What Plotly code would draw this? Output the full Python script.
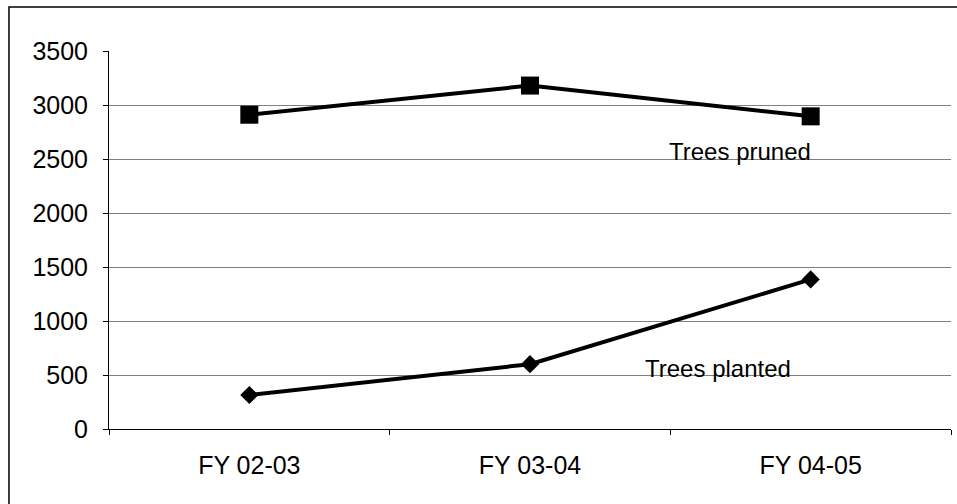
import plotly.graph_objects as go

categories = ["FY 02-03", "FY 03-04", "FY 04-05"]
trees_pruned = [2910, 3180, 2895]
trees_planted = [315, 600, 1385]
y_ticks = [0, 500, 1000, 1500, 2000, 2500, 3000, 3500]

FONT = "Liberation Sans, Arial, sans-serif"

fig = go.Figure()
fig.add_trace(go.Scatter(
    x=categories, y=trees_pruned, mode="lines+markers", name="Trees pruned",
    line=dict(color="black", width=4),
    marker=dict(symbol="square", size=18, color="black"),
))
fig.add_trace(go.Scatter(
    x=categories, y=trees_planted, mode="lines+markers", name="Trees planted",
    line=dict(color="black", width=4),
    marker=dict(symbol="diamond", size=14, color="black"),
))

# white boxes behind the inline labels (hide gridlines)
fig.add_shape(type="rect", xref="paper", yref="paper", x0=0.639, x1=1.0, y0=0.695, y1=0.768,
              fillcolor="white", line=dict(width=0), layer="between")
fig.add_shape(type="rect", xref="paper", yref="paper", x0=0.609, x1=1.0, y0=0.122, y1=0.198,
              fillcolor="white", line=dict(width=0), layer="between")
# outer border
fig.add_shape(type="rect", xref="paper", yref="paper", x0=-0.1188, x1=1.2, y0=-0.5, y1=1.1164,
              line=dict(color="black", width=1.5), fillcolor="rgba(0,0,0,0)", layer="above")

fig.add_annotation(text="Trees pruned", xref="paper", yref="paper", x=0.663, y=0.733,
                   xanchor="left", yanchor="middle", showarrow=False,
                   font=dict(family=FONT, size=24, color="black"))
fig.add_annotation(text="Trees planted", xref="paper", yref="paper", x=0.634, y=0.161,
                   xanchor="left", yanchor="middle", showarrow=False,
                   font=dict(family=FONT, size=24, color="black"))

fig.update_layout(
    width=957, height=504,
    margin=dict(l=109, r=6, t=51, b=75),
    paper_bgcolor="white", plot_bgcolor="white",
    showlegend=False,
    font=dict(family=FONT, size=25, color="black"),
    xaxis=dict(
        type="category", range=[-0.5, 2.5], showgrid=False,
        showline=True, linecolor="black", linewidth=1,
        ticks="outside", tickson="boundaries", ticklen=5, tickcolor="black",
        ticklabelstandoff=14,
        tickfont=dict(family=FONT, size=25, color="black"),
    ),
    yaxis=dict(
        range=[0, 3500], tickvals=y_ticks, ticktext=[str(v) for v in y_ticks],
        showgrid=True, gridcolor="#808080", gridwidth=1,
        showline=True, linecolor="black", linewidth=1,
        ticks="outside", ticklen=5, tickcolor="black",
        zeroline=False,
        ticklabelstandoff=10,
        tickfont=dict(family=FONT, size=25, color="black"),
    ),
)

fig.write_html(
    "out.html",
    config={"displayModeBar": False},
    post_script="document.body.style.margin='0';document.body.style.overflow='hidden';",
)
